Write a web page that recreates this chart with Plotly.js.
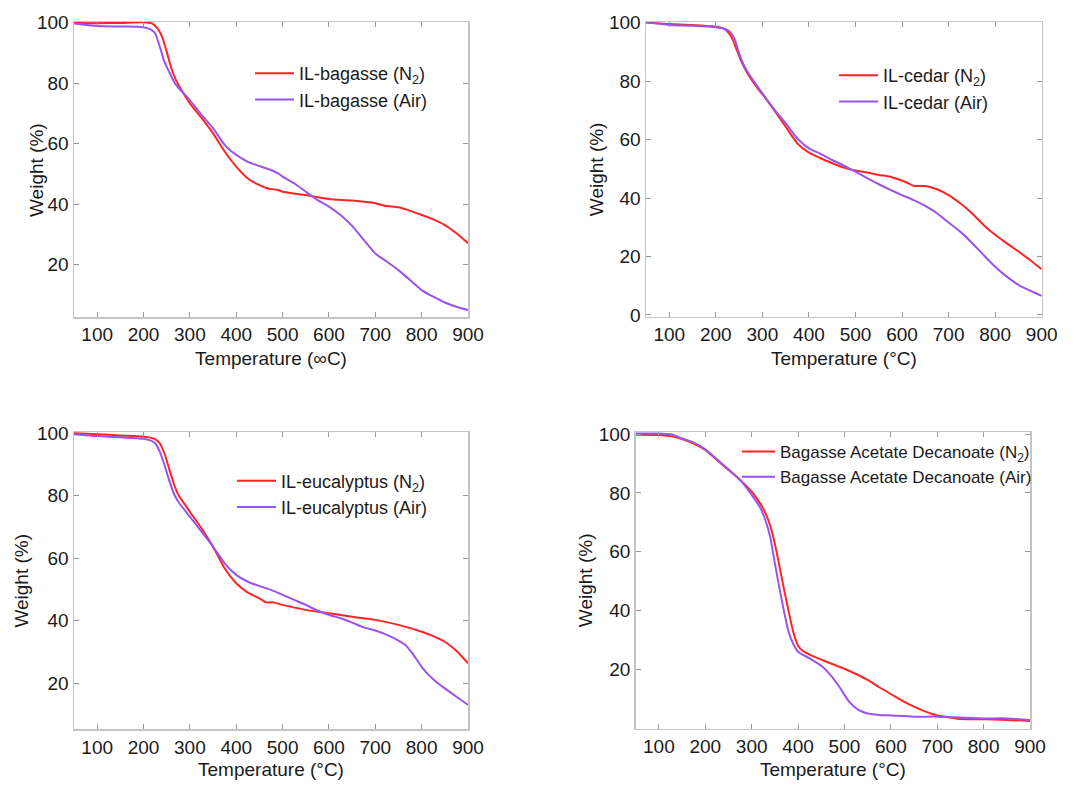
<!DOCTYPE html>
<html>
<head>
<meta charset="utf-8">
<script src="https://cdn.plot.ly/plotly-3.0.1.min.js"></script>
<style>html,body{margin:0;padding:0;background:#fff;}#chart{width:1078px;height:785px;}</style>
</head>
<body>
<div id="chart"></div>
<script>
// ---- Data ----
// Panel 1: IL-bagasse
const bagN2_T = [50,100,150,200,220,230,240,250,260,270,280,300,320,350,375,400,425,450,470,490,500,550,600,650,700,720,750,770,800,820,850,875,900];
const bagN2_W = [99.9,99.8,99.9,100.1,99.6,98.1,95.4,90.4,84.9,81.0,78.2,73.3,69.5,63.4,57.4,52.4,48.5,46.3,45.1,44.7,44.1,43.0,41.7,41.2,40.3,39.5,39.0,38.1,36.4,35.3,33.1,30.4,27.1];
const bagAir_T = [50,100,150,200,215,225,235,245,255,270,300,325,350,375,390,400,425,450,475,490,500,525,550,575,600,625,650,675,700,725,750,775,800,825,850,875,900];
const bagAir_W = [99.7,98.9,98.7,98.5,97.8,96.5,92.1,87.1,83.8,79.4,74.4,69.5,65.1,59.6,57.4,56.3,54.0,52.6,51.3,50.2,49.1,46.9,44.1,41.4,39.2,36.4,32.8,28.2,23.7,21.0,18.2,14.9,11.6,9.4,7.5,6.1,5.0];

// Panel 2: IL-cedar
const cedN2_T = [50,100,150,200,215,225,235,245,255,270,290,300,325,350,375,400,425,450,475,500,525,550,575,590,610,625,650,675,700,725,750,775,800,825,850,875,900];
const cedN2_W = [100,99.5,99.2,98.6,98.1,96.9,94.6,90.6,86.7,82.1,77.5,75.5,70.1,64.4,58.7,55.5,53.6,51.9,50.4,49.4,48.7,47.9,47.3,46.5,45.3,44.2,44.1,43.0,41.0,38.2,34.8,30.8,27.4,24.5,21.7,18.8,15.6];
const cedAir_T = [50,100,150,200,220,230,240,250,260,270,300,325,350,375,400,425,450,475,500,525,550,575,600,625,650,675,700,725,750,775,800,825,850,875,900];
const cedAir_W = [100.1,99.2,98.9,98.4,97.8,96.9,94.6,89.5,85.5,82.7,75.8,70.4,65.6,60.4,57.0,55.1,53.0,51.1,49.0,46.8,44.7,42.8,41.0,39.3,37.3,34.8,31.6,28.5,24.7,20.5,16.5,13.1,10.3,8.3,6.5];

// Panel 3: IL-eucalyptus
const eucN2_T = [50,100,150,200,215,225,235,245,255,265,275,300,325,350,375,400,425,450,465,480,500,550,600,650,700,750,800,825,850,875,900];
const eucN2_W = [100.1,99.7,99.3,98.9,98.6,98.1,96.8,93.6,88.8,84.0,80.3,74.9,69.6,63.7,56.8,52.0,49.0,47.2,45.9,45.9,45.1,43.5,42.4,41.3,40.3,38.7,36.5,35.1,33.3,30.4,26.4];
const eucAir_T = [50,100,150,200,215,225,235,245,255,265,275,300,325,350,375,400,425,450,475,500,525,550,575,600,625,650,675,700,725,750,765,780,800,815,835,850,875,900];
const eucAir_W = [99.7,99.1,98.7,98.2,97.7,96.8,94.1,89.9,85.1,80.8,78.1,73.3,68.5,63.7,58.4,54.7,52.5,51.1,49.9,48.3,46.7,45.1,43.3,41.9,40.8,39.4,37.9,36.9,35.5,33.7,32.3,29.6,25.3,22.7,20.0,18.4,15.7,13.1];

// Panel 4: Bagasse Acetate Decanoate
const badN2_T = [50,100,125,150,175,200,225,250,275,300,320,330,340,350,360,370,380,390,400,410,425,450,475,500,525,550,575,600,625,650,675,700,725,750,800,850,900];
const badN2_W = [99.8,99.7,99.3,98.3,96.8,94.6,91.2,87.8,84.4,80.4,76.0,73.0,68.8,62.7,55.0,47.0,39.5,32.5,28.0,26.3,25.0,23.3,21.7,20.2,18.4,16.4,13.9,11.6,9.3,7.3,5.6,4.3,3.7,3.1,3.0,2.8,2.4];
const badAir_T = [50,100,125,150,175,200,225,250,275,300,320,330,340,350,360,370,380,390,400,425,450,470,490,510,530,550,575,600,650,700,750,800,850,900];
const badAir_W = [100.2,100.2,99.9,98.5,97.1,94.8,91.4,88.0,84.4,79.3,74.5,70.5,65.0,56.0,47.5,39.5,32.5,28.5,26.0,23.7,21.2,18.0,13.8,9.0,6.2,5.0,4.5,4.3,3.9,3.9,3.6,3.3,3.3,2.8];

const xTicks = [100,200,300,400,500,600,700,800,900];
const yTicks = [0,20,40,60,80,100];
const xTitle1 = 'Temperature (\u221EC)';
const xTitle = 'Temperature (\u00B0C)';
const yTitle = 'Weight (%)';

// ---- Styling ----
const RED = '#ff2424';
const PURPLE = '#9a52f2';
const FONT = 'Liberation Sans, Arial, Helvetica, sans-serif';
const TXT = '#1a1a1a';

function line(x, y, name, color, xa, ya, leg) {
  return {x: x, y: y, name: name, type: 'scatter', mode: 'lines',
    line: {color: color, width: 2, shape: 'spline', smoothing: 0.6},
    xaxis: xa, yaxis: ya, legend: leg, hoverinfo: 'x+y+name'};
}

const data = [
  line(bagN2_T, bagN2_W, 'IL-bagasse (N<sub>2</sub>)', RED, 'x', 'y', 'legend'),
  line(bagAir_T, bagAir_W, 'IL-bagasse (Air)', PURPLE, 'x', 'y', 'legend'),
  line(cedN2_T, cedN2_W, 'IL-cedar (N<sub>2</sub>)', RED, 'x2', 'y2', 'legend2'),
  line(cedAir_T, cedAir_W, 'IL-cedar (Air)', PURPLE, 'x2', 'y2', 'legend2'),
  line(eucN2_T, eucN2_W, 'IL-eucalyptus (N<sub>2</sub>)', RED, 'x3', 'y3', 'legend3'),
  line(eucAir_T, eucAir_W, 'IL-eucalyptus (Air)', PURPLE, 'x3', 'y3', 'legend3'),
  line(badN2_T, badN2_W, 'Bagasse Acetate Decanoate (N<sub>2</sub>)', RED, 'x4', 'y4', 'legend4'),
  line(badAir_T, badAir_W, 'Bagasse Acetate Decanoate (Air)', PURPLE, 'x4', 'y4', 'legend4')
];

const W = 1078, H = 785;
function xd(a, b) { return [a / W, b / W]; }
function yd(top, bot) { return [1 - bot / H, 1 - top / H]; }

function xax(domain, anchor, title, standoff) {
  return {domain: domain, anchor: anchor, range: [50, 900], tickvals: xTicks,
    ticks: 'inside', ticklen: 5, tickwidth: 1, tickcolor: '#999', showline: true, mirror: 'ticks',
    linecolor: '#c4c4c4', linewidth: 1.5, showgrid: false, zeroline: false,
    tickfont: {family: FONT, size: 19, color: TXT},
    title: {text: title, font: {family: FONT, size: 19, color: TXT}, standoff: standoff}, automargin: false};
}
function yax(domain, anchor, range, tv, title, standoff) {
  return {domain: domain, anchor: anchor, range: range, tickvals: tv,
    ticks: 'inside', ticklen: 5, tickwidth: 1, tickcolor: '#999', showline: true, mirror: 'ticks',
    linecolor: '#c4c4c4', linewidth: 1.5, showgrid: false, zeroline: false,
    tickfont: {family: FONT, size: 19, color: TXT},
    title: {text: title, font: {family: FONT, size: 19, color: TXT}, standoff: standoff}, automargin: false};
}
function leg(x, y, size, iw) {
  return {x: x / W, y: 1 - y / H, xanchor: 'left', yanchor: 'top', bgcolor: 'rgba(0,0,0,0)',
    borderwidth: 0, font: {family: FONT, size: size, color: TXT}, itemwidth: iw, tracegroupgap: 0};
}

const layout = {
  width: W, height: H, margin: {l: 0, r: 0, t: 0, b: 0},
  paper_bgcolor: '#fff', plot_bgcolor: '#fff', showlegend: true,
  font: {family: FONT, color: TXT},
  xaxis: xax(xd(74, 468), 'y', xTitle1, 7),
  // panel 1's y title sits over its tick-label column, so it is placed as an annotation below
  yaxis: yax(yd(22, 317), 'x', [2.7, 100.2], [20, 40, 60, 80, 100], '', 0),
  xaxis2: xax(xd(646, 1041.7), 'y2', xTitle, 7),
  yaxis2: yax(yd(22, 316.7), 'x2', [-0.6, 100.2], yTicks, yTitle, 0),
  xaxis3: xax(xd(74, 468), 'y3', xTitle, 6),
  yaxis3: yax(yd(432.3, 729.3), 'x3', [5.3, 100.3], [20, 40, 60, 80, 100], yTitle, 3),
  xaxis4: xax(xd(635.7, 1030), 'y4', xTitle, 6),
  yaxis4: yax(yd(432, 728.7), 'x4', [-0.2, 100.7], [20, 40, 60, 80, 100], yTitle, 1),
  annotations: [
    {text: yTitle, xref: 'paper', yref: 'paper', x: 37 / W, y: 1 - 170 / H,
     xanchor: 'center', yanchor: 'middle', textangle: -90, showarrow: false,
     font: {family: FONT, size: 19, color: TXT}}
  ],
  legend: leg(250, 55, 18, 39),
  legend2: leg(834, 57, 18, 39),
  legend3: leg(232, 462.5, 18, 39),
  legend4: leg(737, 434, 17, 33)
};

Plotly.newPlot('chart', data, layout, {displayModeBar: false, staticPlot: true});
</script>
</body>
</html>
